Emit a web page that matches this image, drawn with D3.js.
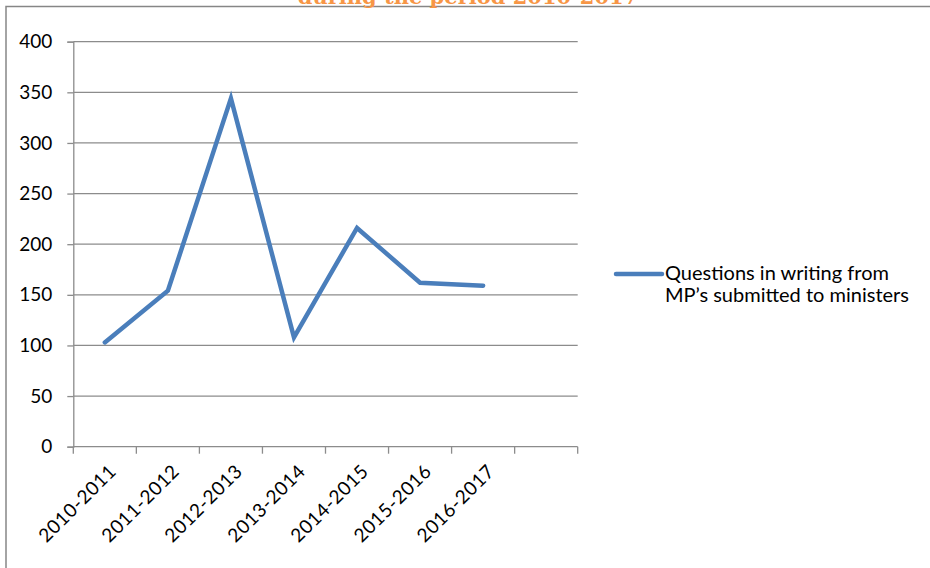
<!DOCTYPE html>
<html><head><meta charset="utf-8">
<script src="https://cdn.jsdelivr.net/npm/d3@7/dist/d3.min.js"></script>
<style>html,body{margin:0;padding:0;background:#fff;}svg{display:block;}</style>
</head><body>
<svg id="c" width="930" height="568"></svg>
<script>
const categories = ["2010-2011","2011-2012","2012-2013","2013-2014","2014-2015","2015-2016","2016-2017",""];
const seriesName = ["Questions in writing from", "MP\u2019s submitted to ministers"];
const values = [103, 154, 344, 108, 216, 162, 159];
const yTicks = [0,50,100,150,200,250,300,350,400];
const titleText = "during the period 2010-2017";

(function(){
const svg = d3.select("#c");
const font = "Lato, 'Open Sans', sans-serif";
const pLeft = 73.3, pRight = 577.7, pTop = 41.7, pBottom = 446.7;

// frame
svg.append("path").attr("d","M6,568 V6.5 H930").attr("fill","none").attr("stroke","#868686").attr("stroke-width",1.5);

// title
svg.append("text").attr("x",468).attr("y",4).attr("text-anchor","middle")
  .attr("font-family","'DejaVu Serif', 'Liberation Serif', serif").attr("font-weight","bold")
  .attr("font-size",21).attr("fill","#F79646").text(titleText);

const x = d3.scaleBand().domain(categories.map((c,i)=>i)).range([pLeft,pRight]).padding(0);
const y = d3.scaleLinear().domain([0,400]).range([pBottom,pTop]);

// gridlines
svg.append("g").selectAll("line").data(yTicks.filter(d=>d>0)).join("line")
  .attr("x1",pLeft).attr("x2",pRight).attr("y1",d=>y(d)).attr("y2",d=>y(d))
  .attr("stroke","#8c8c8c").attr("stroke-width",1.3);

// y axis
const ya = svg.append("g").attr("transform",`translate(${pLeft},0)`)
  .call(d3.axisLeft(y).tickValues(yTicks).tickSize(6).tickPadding(15));
ya.select(".domain").attr("stroke","#8c8c8c").attr("stroke-width",1.3);
ya.selectAll(".tick line").attr("stroke","#8c8c8c").attr("stroke-width",1.3);
ya.selectAll(".tick text").attr("font-family",font).attr("font-size",19).attr("fill","#000");

// x axis
const xb = svg.append("g").attr("transform",`translate(0,${pBottom})`);
xb.append("line").attr("x1",pLeft).attr("x2",pRight).attr("stroke","#8c8c8c").attr("stroke-width",1.3);
const edges = categories.map((c,i)=>x(i)).concat([pRight]);
xb.selectAll("line.tk").data(edges).join("line").attr("class","tk")
  .attr("x1",d=>d).attr("x2",d=>d).attr("y1",0).attr("y2",7)
  .attr("stroke","#8c8c8c").attr("stroke-width",1.3);
xb.selectAll("text").data(categories).join("text")
  .attr("transform",(d,i)=>`translate(${x(i)+x.bandwidth()/2+8},${21}) rotate(-45)`)
  .attr("text-anchor","end").attr("dy","0.35em").attr("letter-spacing","0.6px")
  .attr("font-family",font).attr("font-size",19).attr("fill","#000").text(d=>d);

// line
const line = d3.line().x((d,i)=>x(i)+x.bandwidth()/2).y(d=>y(d));
svg.append("path").datum(values).attr("d",line).attr("fill","none")
  .attr("stroke","#4A7EBB").attr("stroke-width",4.5).attr("stroke-linejoin","miter").attr("stroke-linecap","round");

// legend
svg.append("line").attr("x1",616).attr("x2",662).attr("y1",274).attr("y2",274)
  .attr("stroke","#4A7EBB").attr("stroke-width",4.5).attr("stroke-linecap","round");
svg.append("g").selectAll("text").data(seriesName).join("text")
  .attr("x",665).attr("y",(d,i)=>280+i*22)
  .attr("font-family",font).attr("font-size",20).attr("fill","#000").text(d=>d);
})();
</script>
</body></html>
